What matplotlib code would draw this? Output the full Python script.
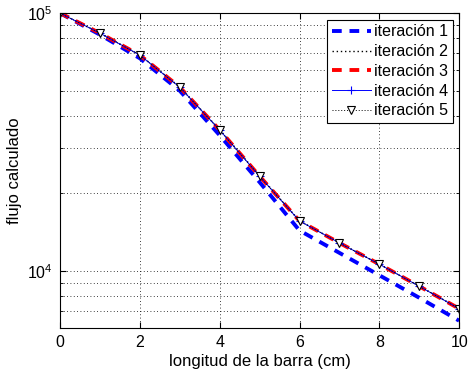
import matplotlib
matplotlib.use("Agg")
import matplotlib.pyplot as plt
from matplotlib.ticker import LogLocator, NullFormatter

plt.rcParams["font.family"] = ["Liberation Sans", "DejaVu Sans"]
plt.rcParams["mathtext.fontset"] = "custom"
plt.rcParams["mathtext.rm"] = "Liberation Sans"

# posiciones a lo largo de la barra (cm)
x = [0, 1, 2, 3, 4, 5, 6, 7, 8, 9, 10]

# flujo calculado por iteración
iter1 = [100000, 82500, 66800, 50000, 33600, 22100, 14350, 11750, 9620, 7870, 6410]
iter2 = [100000, 83700, 68800, 51700, 35300, 23400, 15650, 12850, 10630, 8730, 7150]
iter3 = [100000, 83600, 68700, 51600, 35200, 23300, 15630, 12840, 10620, 8720, 7140]
iter4 = [100000, 83600, 68700, 51600, 35200, 23300, 15630, 12840, 10620, 8720, 7140]
iter5 = [100000, 83600, 68700, 51600, 35200, 23300, 15630, 12840, 10620, 8720, 7140]

fig = plt.figure(figsize=(4.69, 3.75), dpi=100)
ax = fig.add_axes([0.128, 0.125, 0.851, 0.840])

ax.plot(x, iter1, color="#0000ff", linestyle=(0, (2.5, 2)), linewidth=2.8, label="iteración 1")
ax.plot(x, iter2, color="black", linestyle=(0, (1, 2)), linewidth=1.0, label="iteración 2")
ax.plot(x, iter3, color="#ff0000", linestyle=(0, (2.5, 2)), linewidth=2.8, label="iteración 3")
ax.plot(x, iter4, color="#0000ff", linestyle="-", linewidth=0.7, marker="+",
        markersize=6, markeredgewidth=0.8, label="iteración 4")
ax.plot(x, iter5, color="black", linestyle=(0, (1, 2)), linewidth=0.7, marker="v",
        markersize=5.5, markerfacecolor="white", markeredgewidth=0.8, label="iteración 5")

ax.set_yscale("log")
ax.set_xlim(0, 10)
ax.set_ylim(6000, 100000)
ax.set_xticks([0, 2, 4, 6, 8, 10])
ax.yaxis.set_major_locator(LogLocator(base=10))
ax.yaxis.set_minor_locator(LogLocator(base=10, subs=range(2, 10)))
ax.yaxis.set_minor_formatter(NullFormatter())

ax.grid(True, which="major", color="black", linestyle=(0, (1, 3)), linewidth=0.6)
ax.grid(True, which="minor", axis="y", color="black", linestyle=(0, (1, 3)), linewidth=0.6)
ax.tick_params(which="both", direction="in", top=True, right=True, labelsize=11.5, pad=5)
ax.tick_params(which="major", length=4)
ax.tick_params(which="minor", length=2)
for s in ax.spines.values():
    s.set_linewidth(0.8)

ax.set_xlabel("longitud de la barra (cm)", fontsize=12, labelpad=3)
ax.set_ylabel("flujo calculado", fontsize=12, labelpad=4)

leg = ax.legend(loc="upper right", fontsize=11.5, frameon=True, fancybox=False,
                edgecolor="black", framealpha=1, borderpad=0.3, labelspacing=0.3,
                handlelength=2.5, handletextpad=0.15, borderaxespad=0.4)
leg.get_frame().set_linewidth(0.8)

fig.savefig("out.png", dpi=100)
